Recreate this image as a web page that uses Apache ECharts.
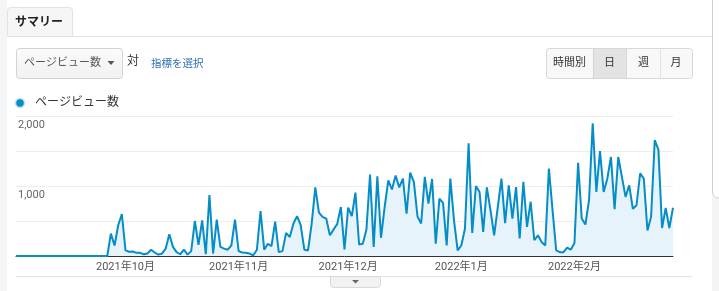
<!DOCTYPE html>
<html>
<head>
<meta charset="utf-8">
<script src="https://cdn.jsdelivr.net/npm/echarts@6/dist/echarts.min.js"></script>
<style>
html,body{margin:0;padding:0;background:#fff;}
#chart{width:719px;height:291px;}
</style>
</head>
<body>
<div id="chart"></div>
<script>
// Daily page views, 2021-09-01 .. 2022-02-28
var startDate = '2021-09-01';
var dayCount = 181;
var pageviews = [
  0,0,0,0,0,0,0,0,0,0,0,0,0,0,0,0,0,0,0,0,0,0,0,0,0,0,
  320,150,440,600,80,60,65,45,45,25,35,90,50,20,35,105,310,130,55,25,90,20,70,500,160,510,25,870,
  35,520,130,105,90,150,520,70,50,45,35,10,90,640,90,175,140,490,55,70,330,270,460,570,440,90,80,
  460,980,620,560,535,295,380,455,700,95,690,570,905,165,175,375,1165,130,1140,260,700,1080,950,1150,980,1105,605,1190,1060,565,
  465,1130,750,1100,175,820,760,150,1105,510,80,150,390,1610,330,1000,915,345,980,655,295,700,1105,470,1010,535,985,250,1060,
  415,775,225,295,200,150,1250,655,80,55,55,120,90,185,1330,535,450,800,1895,915,1500,915,1105,1415,670,1415,1130,845,1010,675,725,1180,1105,365,560,1655,1520,400,685,400,690
];
var tickDates = ['2021-10-01','2021-11-01','2021-12-01','2022-01-01','2022-02-01'];
var tickLabels = ['2021年10月','2021年11月','2021年12月','2022年1月','2022年2月'];
var yLabelValues = [1000, 2000];
var seriesName = 'ページビュー数';

var categories = [];
(function(){
  var d = new Date(startDate + 'T00:00:00Z');
  for (var i = 0; i < dayCount; i++) {
    var s = d.toISOString().slice(0,10);
    categories.push(s);
    d.setUTCDate(d.getUTCDate() + 1);
  }
})();

var FONT = 'Roboto, "Noto Sans CJK JP", sans-serif';
var chart = echarts.init(document.getElementById('chart'), null, {renderer:'canvas'});
chart.setOption({
  animation: false,
  backgroundColor: '#fff',
  grid: {left: 16, right: 46, top: 116, bottom: 35},
  xAxis: {
    type: 'category',
    data: categories,
    boundaryGap: false,
    axisLine: {show: true, lineStyle: {color: '#333', width: 1}},
    axisTick: {show: false},
    splitLine: {show: false},
    axisLabel: {
      interval: function(i, v){ return tickDates.indexOf(v) >= 0; },
      formatter: function(v){ var k = tickDates.indexOf(v); return k >= 0 ? tickLabels[k] : ''; },
      color: '#555', fontSize: 11, fontFamily: FONT, margin: 6
    }
  },
  yAxis: {
    type: 'value', min: 0, max: 2000, interval: 500,
    axisLine: {show: false}, axisTick: {show: false},
    splitLine: {lineStyle: {color: '#ececec', width: 1}},
    axisLabel: {
      inside: true, margin: 2, verticalAlign: 'top', padding: [4,0,0,0],
      color: '#666', fontSize: 11, fontFamily: FONT,
      formatter: function(v){ return yLabelValues.indexOf(v) >= 0 ? v.toLocaleString('en-US') : ''; }
    }
  },
  series: [{
    name: seriesName, type: 'line', data: pageviews,
    symbol: 'none', showSymbol: false,
    lineStyle: {color: '#058dc7', width: 2},
    itemStyle: {color: '#058dc7'},
    areaStyle: {color: '#e6f3fa', opacity: 1},
    z: 3
  }],
  graphic: [
    {type:'rect', z:-1, shape:{x:0,y:0,width:7,height:291}, style:{fill:'#f3f5f7'}},
    {type:'rect', z:-1, shape:{x:712,y:0,width:7,height:291}, style:{fill:'#f4f4f4'}},
    {type:'rect', shape:{x:712.5,y:-10,width:20,height:208,r:6}, style:{fill:'#fff',stroke:'#cfcfcf',lineWidth:1}},
    // tab
    {type:'line', shape:{x1:72,y1:36.5,x2:712,y2:36.5}, style:{stroke:'#e3e3e3',lineWidth:1}},
    {type:'rect', shape:{x:7.5,y:7.5,width:65,height:29,r:[3,3,0,0]}, style:{fill:'#f6f6f6',stroke:'#e3e3e3',lineWidth:1}},
    {type:'text', style:{x:15,y:23,text:'サマリー',font:'bold 12px '+FONT,fill:'#222',verticalAlign:'middle'}},
    // dropdown
    {type:'rect', shape:{x:16.5,y:48.5,width:106,height:30,r:3}, style:{fill:new echarts.graphic.LinearGradient(0,0,0,1,[{offset:0,color:'#fbfbfb'},{offset:1,color:'#f1f1f1'}]),stroke:'#d3d3d3',lineWidth:1}},
    {type:'text', style:{x:24,y:63.5,text:'ページビュー数',font:'11px '+FONT,fill:'#555',verticalAlign:'middle'}},
    {type:'polygon', shape:{points:[[107.5,61],[114.5,61],[111,65]]}, style:{fill:'#555'}},
    {type:'text', style:{x:127,y:62,text:'対',font:'12px '+FONT,fill:'#333',verticalAlign:'middle'}},
    {type:'text', style:{x:151,y:64,text:'指標を選択',font:'10.5px '+FONT,fill:'#2f6fb2',verticalAlign:'middle'}},
    // buttons
    {type:'rect', shape:{x:546.5,y:48.5,width:146,height:30,r:3}, style:{fill:'#f8f8f8',stroke:'#d8d8d8',lineWidth:1}},
    {type:'rect', shape:{x:593.5,y:49,width:32.5,height:29}, style:{fill:'#e3e3e3'}},
    {type:'line', shape:{x1:593.5,y1:48.5,x2:593.5,y2:78.5}, style:{stroke:'#d3d3d3',lineWidth:1}},
    {type:'line', shape:{x1:626.5,y1:48.5,x2:626.5,y2:78.5}, style:{stroke:'#d8d8d8',lineWidth:1}},
    {type:'line', shape:{x1:660.5,y1:48.5,x2:660.5,y2:78.5}, style:{stroke:'#e2e2e2',lineWidth:1}},
    {type:'text', style:{x:569.5,y:63.5,text:'時間別',font:'11px '+FONT,fill:'#333',align:'center',verticalAlign:'middle'}},
    {type:'text', style:{x:609.5,y:63.5,text:'日',font:'11px '+FONT,fill:'#333',align:'center',verticalAlign:'middle'}},
    {type:'text', style:{x:643.5,y:63.5,text:'週',font:'11px '+FONT,fill:'#333',align:'center',verticalAlign:'middle'}},
    {type:'text', style:{x:676,y:63.5,text:'月',font:'11px '+FONT,fill:'#333',align:'center',verticalAlign:'middle'}},
    // legend
    {type:'circle', shape:{cx:20,cy:103,r:4.5}, style:{fill:'#058dc7',stroke:'#bfe3f3',lineWidth:1.5}},
    {type:'text', style:{x:35,y:103,text:seriesName,font:'12px '+FONT,fill:'#333',verticalAlign:'middle'}},
    // bottom
    {type:'line', shape:{x1:16,y1:276.5,x2:692,y2:276.5}, style:{stroke:'#e2e2e2',lineWidth:1}},
    {type:'rect', shape:{x:330.5,y:276.5,width:50,height:11,r:[0,0,3,3]}, style:{fill:'#f2f2f2',stroke:'#d8d8d8',lineWidth:1}},
    {type:'polygon', shape:{points:[[352,280],[359,280],[355.5,283.5]]}, style:{fill:'#666'}}
  ]
});
</script>
</body>
</html>
